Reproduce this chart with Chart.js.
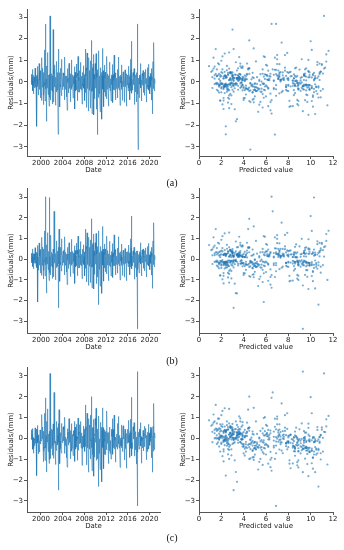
<!DOCTYPE html>
<html>
<head>
<meta charset="utf-8">
<script src="https://cdn.jsdelivr.net/npm/chart.js@4.4.1/dist/chart.umd.min.js"></script>
<style>
body { margin: 0; background: #fff; }
#fig { position: relative; width: 344px; height: 550px; }
#fig canvas { position: absolute; }
.lab { position: absolute; width: 40px; text-align: center; font: 10px "Liberation Serif", serif; line-height: 12px; color: #111; z-index: 2; }
</style>
</head>
<body>
<div id="fig">
  <canvas id="lineA"></canvas><canvas id="dotsA"></canvas>
  <canvas id="lineB"></canvas><canvas id="dotsB"></canvas>
  <canvas id="lineC"></canvas><canvas id="dotsC"></canvas>
  <div class="lab" style="left:152px;top:177px">(a)</div>
  <div class="lab" style="left:152px;top:355px">(b)</div>
  <div class="lab" style="left:152px;top:532px">(c)</div>
</div>
<script>
// twice-monthly series: start-of-month and mid-month values, first month is April 1998
const startYear = 1998.25;
const yearTicks = [2000, 2004, 2008, 2012, 2016, 2020];
const predTicks = [0, 2, 4, 6, 8, 10, 12];
const resTicks = [-3, -2, -1, 0, 1, 2, 3];

// predicted value, start of month
const predicted = [
  2.6, 3.9, 5.7, 7.9, 9.6, 10.6, 9.2, 6.7, 4.5,
  3.1, 2.2, 1.6, 2.4, 3.9, 5.8, 8.2, 9.7, 10.8, 8.6, 6.2, 4.0,
  2.8, 1.9, 1.3, 2.0, 3.5, 5.4, 7.5, 9.2, 10.1, 8.9, 6.5, 4.3,
  3.3, 2.5, 1.8, 2.7, 4.2, 6.1, 8.4, 10.3, 11.2, 9.5, 7.0, 4.8,
  3.6, 2.9, 2.2, 3.0, 4.6, 6.6, 8.8, 10.6, 11.5, 9.9, 7.4, 5.1,
  3.8, 3.0, 2.4, 3.1, 4.4, 6.3, 8.1, 9.6, 10.5, 9.2, 6.9, 4.7,
  3.5, 2.6, 2.0, 2.8, 4.0, 5.9, 7.8, 9.4, 10.2, 8.7, 6.4, 4.4,
  3.2, 2.3, 1.7, 2.5, 3.7, 5.5, 7.3, 8.9, 9.8, 8.4, 6.0, 4.1,
  3.0, 2.1, 1.4, 2.2, 3.4, 5.1, 7.0, 8.6, 9.5, 8.1, 5.8, 3.9,
  2.9, 2.0, 1.2, 1.9, 3.3, 5.0, 7.1, 8.8, 9.9, 8.5, 6.1, 4.0,
  3.0, 2.2, 1.5, 2.3, 3.8, 5.7, 7.9, 9.8, 10.9, 9.3, 6.8, 4.6,
  3.4, 2.7, 2.0, 2.9, 4.5, 6.5, 8.7, 10.5, 11.4, 9.8, 7.2, 4.9,
  3.7, 2.8, 2.3, 3.2, 4.8, 6.8, 9.0, 10.7, 11.6, 10.1, 7.6, 5.3,
  3.9, 3.1, 2.5, 3.4, 4.9, 6.7, 8.6, 10.2, 11.0, 9.6, 7.3, 5.0,
  3.6, 2.7, 2.1, 2.9, 4.3, 6.2, 8.0, 9.7, 10.6, 9.1, 6.7, 4.5,
  3.3, 2.4, 1.8, 2.6, 3.9, 5.8, 7.7, 9.3, 10.3, 8.8, 6.3, 4.2,
  3.1, 2.2, 1.6, 2.3, 3.6, 5.3, 7.2, 8.9, 9.9, 8.4, 6.0, 4.0,
  2.8, 1.9, 1.1, 1.8, 3.1, 4.9, 6.9, 8.6, 9.6, 8.2, 5.7, 3.7,
  2.6, 1.7, 0.9, 1.6, 3.0, 4.8, 7.0, 8.9, 10.0, 8.6, 6.2, 4.1,
  2.9, 2.0, 1.3, 2.1, 3.6, 5.6, 7.8, 9.7, 10.8, 9.3, 6.9, 4.6,
  3.4, 2.6, 1.9, 2.8, 4.3, 6.2, 8.4, 10.1, 11.1, 9.6, 7.1, 4.8,
  3.5, 2.7, 2.0, 2.9, 4.4, 6.4, 8.5, 10.3, 11.3, 9.7, 7.2, 4.9,
  3.6, 2.8, 2.1, 3.0, 4.5, 6.5, 8.7, 10.4, 11.4, 9.9, 7.4, 5.1,
  3.7
];

// predicted value, mid-month
const predictedMid = [
  3.1, 4.8, 6.9, 8.8, 10.2, 10.1, 8.0, 5.6, 3.8,
  2.7, 1.8, 1.9, 3.0, 4.9, 7.1, 9.0, 10.4, 9.9, 7.3, 5.0, 3.4,
  2.3, 1.5, 1.6, 2.7, 4.5, 6.4, 8.5, 9.8, 9.6, 7.7, 5.3, 3.9,
  2.8, 2.2, 2.1, 3.4, 5.2, 7.2, 9.4, 10.9, 10.4, 8.2, 5.9, 4.1,
  3.3, 2.4, 2.5, 3.8, 5.5, 7.8, 9.8, 11.1, 10.8, 8.6, 6.3, 4.4,
  3.4, 2.6, 2.7, 3.7, 5.4, 7.2, 8.9, 10.1, 9.9, 8.0, 5.8, 4.2,
  3.0, 2.2, 2.3, 3.3, 4.9, 6.9, 8.7, 9.9, 9.5, 7.5, 5.4, 3.8,
  2.7, 1.9, 2.0, 3.0, 4.6, 6.4, 8.2, 9.4, 9.2, 7.1, 5.0, 3.6,
  2.5, 1.7, 1.7, 2.8, 4.2, 6.1, 7.8, 9.1, 8.8, 7.0, 4.8, 3.4,
  2.4, 1.5, 1.4, 2.6, 4.1, 6.1, 8.0, 9.4, 9.3, 7.3, 5.0, 3.5,
  2.6, 1.8, 1.8, 3.0, 4.7, 6.8, 8.9, 10.4, 10.2, 8.0, 5.7, 3.9,
  3.0, 2.3, 2.4, 3.7, 5.5, 7.6, 9.6, 11.0, 10.7, 8.5, 6.0, 4.2,
  3.2, 2.5, 2.7, 4.0, 5.8, 7.9, 9.9, 11.2, 10.9, 8.8, 6.4, 4.5,
  3.5, 2.8, 2.9, 4.1, 5.8, 7.7, 9.4, 10.7, 10.3, 8.5, 6.1, 4.3,
  3.1, 2.4, 2.5, 3.6, 5.2, 7.1, 8.9, 10.2, 9.8, 7.9, 5.6, 3.9,
  2.8, 2.0, 2.2, 3.2, 4.8, 6.7, 8.5, 9.8, 9.5, 7.5, 5.2, 3.7,
  2.6, 1.8, 1.9, 2.9, 4.5, 6.2, 8.0, 9.4, 9.1, 7.2, 5.0, 3.5,
  2.3, 1.4, 1.4, 2.4, 3.9, 5.9, 7.8, 9.1, 8.9, 6.9, 4.7, 3.1,
  2.1, 1.2, 1.2, 2.2, 3.8, 5.9, 8.0, 9.5, 9.4, 7.4, 5.1, 3.5,
  2.4, 1.6, 1.6, 2.8, 4.6, 6.7, 8.8, 10.3, 10.1, 8.1, 5.7, 3.9,
  3.0, 2.2, 2.3, 3.5, 5.2, 7.3, 9.3, 10.6, 10.4, 8.3, 5.9, 4.1,
  3.1, 2.3, 2.4, 3.6, 5.4, 7.5, 9.4, 10.8, 10.5, 8.4, 6.0, 4.2,
  3.2, 2.4, 2.5, 3.7, 5.5, 7.6, 9.6, 10.9, 10.7, 8.6, 6.2, 4.3,
  3.3
];

// residuals (mm), model (a)
const residualsA = [
  0.35, -0.12, 0.58, -0.41, 0.07, -0.55, 0.22, -0.28, 0.64,
  0.18, -0.33, 0.28, -2.05, 0.72, -0.08, 0.26, -0.61, 0.85, 0.04, 0.52, -0.74,
  0.11, -0.86, 1.12, -0.25, 0.63, -1.05, 0.44, -0.02, 1.48, -0.88, 2.68, -0.33,
  -1.82, 0.74, -0.15, 1.36, -0.58, 0.32, -1.12, 0.07, 3.05, -0.84, 1.24, -0.21,
  0.38, -1.02, 0.16, 2.42, -0.93, 0.58, -0.06, 0.79, -1.08, 0.22, -0.47, 0.95,
  -0.18, 0.44, -2.42, 1.52, -0.36, 0.08, -1.15, 0.63, -0.22, 1.05, -0.64, 0.12,
  -0.36, 0.42, -0.05, 0.41, -0.83, 1.15, -0.14, 0.28, -0.69, 0.03, -1.31, 0.62,
  0.18, -0.51, 0.86, -0.13, 0.35, -0.92, 0.07, -0.35, 1.02, -0.18, 0.33, -0.74,
  0.25, -0.09, 0.71, -1.25, 0.18, -0.42, 0.83, -0.11, 0.39, -0.87, 1.18, -0.15,
  0.06, -0.48, 0.52, -0.14, 0.91, -0.37, 0.19, -1.02, 0.44, -0.08, 0.75, -0.29,
  0.31, -0.86, 1.52, -0.22, 0.65, -1.18, 1.34, -0.13, 0.48, -1.35, 1.12, -0.39,
  0.53, -1.21, 0.98, -0.24, 1.92, -1.46, 0.66, -0.42, 1.27, -1.52, 0.36, -0.78,
  0.85, -0.14, 1.31, -1.26, 0.42, -2.43, 0.57, -0.72, 1.44, -0.26, 0.12, -1.38,
  0.66, -0.45, 0.21, -1.72, 1.55, -0.33, 0.28, -1.14, 0.78, -0.11, 0.45, -0.67,
  0.22, -0.78, 1.18, -0.05, 0.37, -1.12, 0.18, -0.26, 0.92, -0.41, 0.04, -0.88,
  0.33, -0.12, 0.81, -0.95, 0.07, -0.36, 1.24, -0.18, 0.42, -0.83, 0.16, -0.31,
  0.09, -0.74, 0.58, -0.11, 1.15, -0.36, 0.27, -1.08, 0.32, -0.05, 0.79, -0.23,
  0.14, -0.86, 0.47, -0.22, 0.05, -0.94, 0.56, -0.18, 0.24, -1.12, 0.38, -0.07,
  0.32, -0.41, 0.73, -0.04, 0.26, -0.82, 1.05, -0.16, 1.88, -0.52, 0.09, -0.38,
  0.44, -0.09, 0.62, -1.04, 0.17, -0.46, 0.28, -0.92, 0.43, -0.21, 2.68, -3.12,
  0.18, -0.73, 0.32, -0.11, 0.85, -0.27, 0.06, -0.88, 0.39, -0.15, 0.53, -0.49,
  0.11, -0.62, 0.45, -0.06, 0.58, -0.93, 0.17, -0.32, 0.66, -0.14, 0.82, -0.38,
  0.07, -0.55, 0.41, -0.16, 0.62, -0.84, 0.23, -1.48, 0.94, -0.31, 1.82, -0.42,
  0.15
];
const residualsAMid = [
  -0.08, 0.21, -0.15, 0.04, 0.31, -0.19, 0.12, 0.02, -0.24,
  0.09, -0.16, 0.05, 0.33, -0.21, 0.14, -0.03, 0.27, -0.35, 0.11, -0.06, 0.19,
  -0.22, 0.37, -0.11, 0.08, -0.42, 0.25, -0.61, 0.48, -0.17, 0.66, -0.29, 0.14,
  0.41, -0.27, 0.58, -0.09, 0.22, -0.53, 0.35, -0.71, 0.18, 0.47, -0.38, 0.06,
  -0.14, 0.29, -0.45, 0.12, 0.36, -0.24, 0.51, -0.33, 0.09, -0.18, 0.27, -0.31,
  0.16, -0.39, 0.62, -0.27, 0.04, 0.43, -0.12, 0.21, -0.36, 0.08, 0.25, -0.17,
  0.13, -0.22, 0.31, -0.06, 0.19, -0.34, 0.07, -0.15, 0.28, -0.41, 0.10, -0.02,
  -0.11, 0.24, -0.30, 0.16, -0.05, 0.38, -0.21, 0.09, -0.27, 0.14, -0.09, 0.22,
  -0.16, 0.31, -0.08, 0.45, -0.28, 0.11, -0.37, 0.19, -0.04, 0.29, -0.47, 0.12,
  0.21, -0.07, 0.15, -0.32, 0.06, 0.27, -0.13, 0.34, -0.19, 0.02, -0.25, 0.17,
  -0.12, 0.38, -0.49, 0.27, -0.18, 0.56, -0.31, 0.15, -0.62, 0.42, -0.08, 0.24,
  -0.36, 0.47, -0.21, 0.72, -0.44, 0.19, -0.58, 0.83, -0.26, 0.35, -0.67, 0.13,
  -0.29, 0.54, -0.38, 0.21, -0.73, 0.46, -0.15, 0.62, -0.41, 0.28, -0.54, 0.37,
  -0.18, 0.44, -0.62, 0.31, -0.09, 0.52, -0.35, 0.26, -0.47, 0.17, -0.22, 0.33,
  -0.14, 0.25, -0.33, 0.12, -0.41, 0.29, -0.07, 0.36, -0.23, 0.15, -0.31, 0.08,
  -0.05, 0.27, -0.19, 0.34, -0.12, 0.08, -0.38, 0.21, -0.14, 0.30, -0.09, 0.18,
  -0.21, 0.13, -0.06, 0.39, -0.26, 0.10, -0.17, 0.32, -0.08, 0.23, -0.35, 0.05,
  -0.17, 0.31, -0.10, 0.26, -0.39, 0.14, -0.22, 0.07, -0.31, 0.36, -0.13, 0.20,
  -0.09, 0.22, -0.28, 0.16, -0.04, 0.35, -0.42, 0.58, -0.19, 0.11, -0.24, 0.29,
  -0.13, 0.26, -0.36, 0.18, -0.07, 0.33, -0.20, 0.12, -0.29, 0.44, -0.56, 0.15,
  -0.06, 0.24, -0.15, 0.31, -0.27, 0.09, -0.33, 0.18, -0.11, 0.27, -0.21, 0.13,
  -0.19, 0.28, -0.08, 0.21, -0.32, 0.15, -0.12, 0.37, -0.24, 0.06, -0.16, 0.25,
  -0.10, 0.19, -0.25, 0.34, -0.14, 0.08, -0.39, 0.47, -0.20, 0.63, -0.31, 0.12,
  -0.07
];

// residuals (mm), model (b)
const residualsB = [
  0.28, -0.18, 0.49, -0.36, 0.12, -0.47, 0.25, -0.21, 0.55,
  0.14, -0.29, 0.33, -0.41, 0.66, -2.08, 0.22, -0.54, 0.78, 0.09, 0.46, -0.68,
  0.16, -0.79, 1.05, -0.31, 0.58, -0.97, 0.49, -0.06, 1.36, -0.81, 3.02, -0.28,
  -1.65, 0.69, -0.19, 1.28, -0.52, 0.37, -1.04, 2.98, 0.12, -0.77, 1.16, -0.25,
  0.33, -0.94, 0.21, 0.48, -0.86, 2.31, -0.11, 0.72, -1.01, 0.27, -0.42, 0.88,
  -0.22, 0.39, -0.31, -2.36, 1.45, 0.13, -1.08, 0.57, -0.27, 0.98, -0.59, 0.16,
  -0.31, 0.37, -0.09, 0.45, -0.77, 1.08, -0.18, 0.32, -0.63, 0.07, -1.24, 0.57,
  0.22, -0.46, 0.79, -0.17, 0.39, -0.85, 0.11, -0.31, 0.96, -0.22, 0.37, -0.69,
  0.29, -0.13, 0.65, -1.18, 0.22, -0.38, 0.77, -0.15, 0.43, -0.81, 1.11, -0.19,
  0.09, -0.43, 0.47, -0.18, 0.85, -0.33, 0.23, -0.95, 0.48, -0.12, 0.69, -0.26,
  0.35, -0.81, 1.45, -0.26, 0.61, -1.11, 1.27, -0.17, 0.52, -1.28, 1.05, -0.35,
  0.57, -1.14, 0.93, -0.28, 1.95, -1.39, 0.71, -0.38, 1.21, -1.45, 0.41, -0.74,
  0.79, -0.18, 1.24, -1.19, 0.46, -0.87, 0.61, -2.21, 1.37, -0.30, 0.16, -1.31,
  0.61, -0.41, 0.25, -1.66, 1.58, -0.29, 0.32, -1.07, 0.73, -0.15, 0.49, -0.62,
  0.26, -0.72, 1.11, -0.09, 0.41, -1.05, 0.22, -0.30, 0.86, -0.37, 0.08, -0.82,
  0.37, -0.16, 0.75, -0.89, 0.11, -0.32, 1.17, -0.22, 0.46, -0.77, 0.20, -0.27,
  0.13, -0.68, 0.53, -0.15, 1.08, -0.32, 0.31, -1.01, 0.36, -0.09, 0.73, -0.19,
  0.18, -0.80, 0.43, -0.26, 0.09, -0.88, 0.51, -0.22, 0.28, -1.05, 0.34, -0.11,
  0.36, -0.37, 0.68, -0.08, 0.30, -0.76, 0.98, -0.20, 2.08, -0.48, 0.13, -0.34,
  0.40, -0.13, 0.57, -0.98, 0.21, -0.42, 0.32, -0.86, 0.39, -3.38, 0.25, -0.17,
  0.22, -0.67, 0.36, -0.15, 0.79, -0.23, 0.10, -0.82, 0.43, -0.19, 0.49, -0.45,
  0.15, -0.57, 0.41, -0.10, 0.54, -0.87, 0.21, -0.28, 0.61, -0.18, 0.76, -0.34,
  0.11, -0.51, 0.37, -0.20, 0.57, -0.78, 0.27, -1.42, 0.88, -0.27, 1.76, -0.38,
  0.19
];
const residualsBMid = [
  -0.05, 0.18, -0.19, 0.08, 0.27, -0.15, 0.16, -0.03, -0.20,
  0.12, -0.20, 0.09, 0.29, -0.25, 0.10, -0.07, 0.31, -0.30, 0.15, -0.02, 0.23,
  -0.18, 0.33, -0.15, 0.12, -0.38, 0.29, -0.56, 0.52, -0.13, 0.61, -0.25, 0.10,
  0.45, -0.23, 0.53, -0.13, 0.26, -0.49, 0.39, -0.66, 0.22, 0.42, -0.34, 0.10,
  -0.10, 0.25, -0.41, 0.16, 0.32, -0.20, 0.47, -0.29, 0.13, -0.14, 0.23, -0.27,
  0.20, -0.35, 0.57, -0.23, 0.08, 0.39, -0.16, 0.25, -0.32, 0.12, 0.21, -0.13,
  0.17, -0.18, 0.27, -0.10, 0.23, -0.30, 0.11, -0.19, 0.24, -0.37, 0.14, -0.06,
  -0.07, 0.20, -0.26, 0.20, -0.09, 0.34, -0.17, 0.13, -0.23, 0.18, -0.05, 0.18,
  -0.12, 0.27, -0.12, 0.41, -0.24, 0.15, -0.33, 0.23, -0.08, 0.25, -0.43, 0.16,
  0.17, -0.11, 0.19, -0.28, 0.10, 0.23, -0.17, 0.30, -0.15, 0.06, -0.21, 0.13,
  -0.08, 0.34, -0.45, 0.31, -0.14, 0.52, -0.27, 0.19, -0.58, 0.38, -0.12, 0.20,
  -0.32, 0.43, -0.25, 0.68, -0.40, 0.23, -0.54, 0.79, -0.30, 0.31, -0.63, 0.17,
  -0.25, 0.50, -0.34, 0.25, -0.69, 0.42, -0.19, 0.58, -0.37, 0.32, -0.50, 0.33,
  -0.22, 0.40, -0.58, 0.35, -0.13, 0.48, -0.31, 0.30, -0.43, 0.21, -0.18, 0.29,
  -0.10, 0.21, -0.29, 0.16, -0.37, 0.25, -0.11, 0.32, -0.19, 0.19, -0.27, 0.12,
  -0.09, 0.23, -0.15, 0.30, -0.16, 0.12, -0.34, 0.25, -0.10, 0.26, -0.13, 0.14,
  -0.17, 0.17, -0.10, 0.35, -0.22, 0.14, -0.13, 0.28, -0.12, 0.19, -0.31, 0.09,
  -0.13, 0.27, -0.14, 0.22, -0.35, 0.18, -0.18, 0.11, -0.27, 0.32, -0.17, 0.16,
  -0.05, 0.18, -0.24, 0.20, -0.08, 0.31, -0.38, 0.54, -0.15, 0.15, -0.20, 0.25,
  -0.17, 0.22, -0.32, 0.22, -0.11, 0.29, -0.16, 0.16, -0.25, 0.40, -0.52, 0.11,
  -0.10, 0.20, -0.19, 0.27, -0.23, 0.13, -0.29, 0.22, -0.07, 0.23, -0.17, 0.09,
  -0.15, 0.24, -0.12, 0.17, -0.28, 0.19, -0.08, 0.33, -0.20, 0.10, -0.12, 0.21,
  -0.06, 0.15, -0.21, 0.30, -0.10, 0.12, -0.35, 0.43, -0.16, 0.59, -0.27, 0.08,
  -0.03
];

// residuals (mm), model (c)
const residualsC = [
  0.42, -0.05, 0.48, -0.52, -0.18, -0.71, -0.02, -0.35, 0.51,
  0.31, 0.06, 0.45, -1.78, 0.63, -0.20, 0.18, -0.74, -0.15, -0.62, 0.41, -0.27,
  0.26, 0.68, 1.15, 0.08, 0.55, -1.12, 0.35, -0.41, 1.21, -1.05, 1.95, -0.46,
  -1.61, 0.82, 0.05, 1.42, -0.63, 0.21, -1.20, -0.18, 3.12, -0.97, 1.05, -0.34,
  0.45, -0.81, 0.33, 0.70, -0.96, 2.21, -0.20, 0.41, -1.25, -0.12, -0.58, 0.82,
  -0.06, 0.52, 0.15, -2.48, 1.38, -0.05, -1.21, 0.28, -0.49, 0.72, -0.71, 0.04,
  -0.21, 0.55, 0.12, 0.60, -0.72, 1.02, -0.24, -0.08, -0.92, -0.31, -1.38, 0.47,
  0.31, -0.32, 0.95, 0.05, 0.25, -0.98, -0.06, -0.62, 0.71, -0.44, 0.20, -0.82,
  0.36, 0.11, 0.82, -1.10, 0.12, -0.51, 0.68, -0.42, 0.08, -1.05, 0.98, -0.27,
  0.18, -0.26, 0.66, 0.05, 0.82, -0.46, 0.07, -1.29, 0.11, -0.38, 0.60, -0.40,
  0.42, -0.62, 1.61, -0.04, 0.56, -1.27, 1.21, -0.45, 0.15, -1.62, 0.95, -0.51,
  0.65, -0.98, 1.12, -0.05, 2.01, -1.55, 0.52, -0.78, 0.92, -1.81, 0.21, -0.90,
  0.96, 0.08, 1.45, -1.05, 0.33, -0.98, 0.44, -2.31, 1.08, -0.58, -0.03, -1.49,
  0.78, -0.22, 0.41, -2.08, 1.47, -0.43, 0.15, -1.45, 0.42, -0.43, 0.31, -0.78,
  0.34, -0.55, 1.32, 0.14, 0.28, -1.21, 0.05, -0.58, 0.55, -0.72, -0.10, -0.99,
  0.45, 0.10, 0.95, -0.76, -0.02, -0.45, 1.12, -0.51, 0.06, -1.14, 0.03, -0.42,
  0.21, -0.52, 0.72, 0.08, 1.06, -0.45, 0.15, -1.39, -0.04, -0.36, 0.65, -0.34,
  0.26, -0.63, 0.61, -0.03, -0.04, -1.03, 0.44, -0.49, -0.12, -1.43, 0.24, -0.18,
  0.44, -0.19, 0.87, 0.15, 0.17, -0.91, 0.93, -0.47, 1.98, -0.83, -0.05, -0.49,
  0.56, 0.13, 0.76, -0.85, 0.08, -0.55, 0.16, -1.23, 0.07, 3.21, -3.24, -0.28,
  0.30, -0.51, 0.46, 0.08, 0.76, -0.36, -0.06, -1.19, 0.03, -0.46, 0.39, -0.60,
  0.23, -0.40, 0.59, 0.13, 0.49, -1.02, 0.05, -0.63, 0.30, -0.45, 0.68, -0.49,
  0.19, -0.33, 0.55, 0.03, 0.53, -0.93, 0.11, -1.62, 0.58, -0.62, 1.68, -0.53,
  0.27
];
const residualsCMid = [
  0.02, 0.21, -0.15, 0.04, 0.01, -0.49, -0.18, -0.08, -0.24,
  0.19, -0.06, 0.15, 0.43, -0.21, 0.14, -0.03, -0.03, -0.65, -0.19, -0.16, 0.19,
  -0.12, 0.47, -0.01, 0.18, -0.42, 0.25, -0.61, 0.18, -0.47, 0.36, -0.39, 0.14,
  0.51, -0.17, 0.68, 0.01, 0.22, -0.53, 0.35, -1.01, -0.12, 0.17, -0.48, 0.06,
  -0.04, 0.39, -0.35, 0.22, 0.36, -0.24, 0.51, -0.63, -0.21, -0.48, 0.17, -0.31,
  0.26, -0.29, 0.72, -0.17, 0.04, 0.43, -0.12, -0.09, -0.66, -0.22, 0.15, -0.17,
  0.23, -0.12, 0.41, 0.04, 0.19, -0.34, 0.07, -0.45, -0.02, -0.71, 0.00, -0.02,
  -0.01, 0.34, -0.20, 0.26, -0.05, 0.38, -0.21, -0.21, -0.57, -0.16, -0.19, 0.22,
  -0.06, 0.41, 0.02, 0.55, -0.28, 0.11, -0.37, -0.11, -0.34, -0.01, -0.57, 0.12,
  0.31, 0.03, 0.25, -0.22, 0.06, 0.27, -0.13, 0.04, -0.49, -0.28, -0.35, 0.17,
  -0.02, 0.48, -0.39, 0.37, -0.18, 0.56, -0.31, -0.15, -0.92, 0.12, -0.18, 0.24,
  -0.26, 0.57, -0.11, 0.82, -0.44, 0.19, -0.58, 0.53, -0.56, 0.05, -0.77, 0.13,
  -0.19, 0.64, -0.28, 0.31, -0.73, 0.46, -0.15, 0.32, -0.71, -0.02, -0.64, 0.37,
  -0.08, 0.54, -0.52, 0.41, -0.09, 0.52, -0.35, -0.04, -0.77, -0.13, -0.32, 0.33,
  -0.04, 0.35, -0.23, 0.22, -0.41, 0.29, -0.07, 0.06, -0.53, -0.15, -0.41, 0.08,
  0.05, 0.37, -0.09, 0.44, -0.12, 0.08, -0.38, -0.09, -0.44, 0.00, -0.19, 0.18,
  -0.11, 0.23, 0.04, 0.49, -0.26, 0.10, -0.17, 0.02, -0.38, -0.07, -0.45, 0.05,
  -0.07, 0.41, 0.00, 0.36, -0.39, 0.14, -0.22, -0.23, -0.61, 0.06, -0.23, 0.20,
  0.01, 0.32, -0.18, 0.26, -0.04, 0.35, -0.42, 0.28, -0.49, -0.19, -0.34, 0.29,
  -0.03, 0.36, -0.26, 0.28, -0.07, 0.33, -0.20, -0.18, -0.59, 0.14, -0.66, 0.15,
  0.04, 0.34, -0.05, 0.41, -0.27, 0.09, -0.33, -0.12, -0.41, -0.03, -0.31, 0.13,
  -0.09, 0.38, 0.02, 0.31, -0.32, 0.15, -0.12, 0.07, -0.54, -0.24, -0.26, 0.25,
  0.00, 0.29, -0.15, 0.44, -0.14, 0.08, -0.39, 0.17, -0.50, 0.33, -0.41, 0.12,
  0.03
];

Chart.defaults.font.family = '"DejaVu Sans", sans-serif';
Chart.defaults.font.size = 7;
Chart.defaults.color = '#222';

const axisColor = '#555';
const blue = '31, 119, 180';

// panel layout per row: canvas top/height, top padding, y range
const rows = [
  { line: 'lineA', dots: 'dotsA', res: residualsA, resMid: residualsAMid, top: 0, height: 176, padTop: 9, yMin: -3.42, yMax: 3.37 },
  { line: 'lineB', dots: 'dotsB', res: residualsB, resMid: residualsBMid, top: 180, height: 173, padTop: 8, yMin: -3.58, yMax: 3.44 },
  { line: 'lineC', dots: 'dotsC', res: residualsC, resMid: residualsCMid, top: 359, height: 173, padTop: 8, yMin: -3.53, yMax: 3.43 }
];

function minus(v) {
  return String(v).replace('-', '\u2212');
}

function yAxis(row) {
  return {
    type: 'linear',
    min: row.yMin,
    max: row.yMax,
    afterBuildTicks: s => { s.ticks = resTicks.map(v => ({ value: v })); },
    afterFit: s => { s.width = 27; },
    ticks: { padding: 1, callback: v => minus(v) },
    grid: { drawOnChartArea: false, drawTicks: true, tickLength: 3, color: axisColor },
    border: { display: true, color: axisColor, width: 1 },
    title: { display: true, text: 'Residuals/(mm)', padding: { top: 7, bottom: 0 } }
  };
}

function xAxis(min, max, tickList, label) {
  return {
    type: 'linear',
    min: min,
    max: max,
    afterBuildTicks: s => { s.ticks = tickList.map(v => ({ value: v })); },
    afterFit: s => { s.height = 20; },
    ticks: { padding: 0, maxRotation: 0, autoSkip: false, callback: v => String(v) },
    grid: { drawOnChartArea: false, drawTicks: true, tickLength: 3, color: axisColor },
    border: { display: true, color: axisColor, width: 1 },
    title: { display: true, text: label, padding: { top: 0, bottom: 2 } }
  };
}

function place(id, left, top, w, h) {
  const c = document.getElementById(id);
  c.width = w; c.height = h;
  c.style.left = left + 'px'; c.style.top = top + 'px';
  c.style.width = w + 'px'; c.style.height = h + 'px';
  return c.getContext('2d');
}

const common = {
  responsive: false,
  animation: false,
  devicePixelRatio: 1,
  plugins: { legend: { display: false }, tooltip: { enabled: false } }
};

rows.forEach(row => {
  // time order: start of month, then mid-month
  const series = [];
  const cloud = [];
  row.res.forEach((r, i) => {
    series.push({ x: startYear + i / 12, y: r });
    series.push({ x: startYear + (i + 0.5) / 12, y: row.resMid[i] });
    cloud.push({ x: predicted[i], y: r });
    cloud.push({ x: predictedMid[i], y: row.resMid[i] });
  });

  // Residuals over time
  const lineCtx = place(row.line, 0, row.top, 172, row.height);
  new Chart(lineCtx, {
    type: 'line',
    data: {
      datasets: [{
        data: series,
        borderColor: `rgba(${blue}, 0.8)`,
        borderWidth: 0.7,
        pointRadius: 0,
        tension: 0
      }]
    },
    options: {
      ...common,
      layout: { padding: { top: row.padTop, right: 12, left: 0, bottom: 0 } },
      scales: {
        x: xAxis(1997.42, 2021.95, yearTicks, 'Date'),
        y: yAxis(row)
      }
    }
  });

  // Residuals vs predicted value
  const dotsCtx = place(row.dots, 172, row.top, 172, row.height);
  new Chart(dotsCtx, {
    type: 'scatter',
    data: {
      datasets: [{
        data: cloud,
        backgroundColor: `rgba(${blue}, 0.6)`,
        borderWidth: 0,
        pointRadius: 1.1
      }]
    },
    options: {
      ...common,
      layout: { padding: { top: row.padTop, right: 11, left: 0, bottom: 0 } },
      scales: {
        x: xAxis(0, 12, predTicks, 'Predicted value'),
        y: yAxis(row)
      }
    }
  });
});
</script>
</body>
</html>
